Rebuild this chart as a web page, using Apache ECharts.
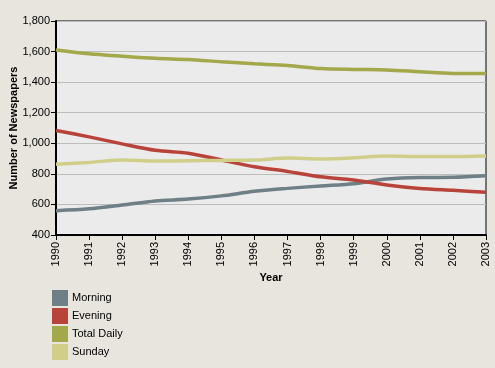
<!DOCTYPE html>
<html><head><meta charset="utf-8">
<script src="https://cdn.jsdelivr.net/npm/echarts@6/dist/echarts.min.js"></script>
<style>html,body{margin:0;padding:0;background:#e8e5df;}#c{width:495px;height:368px;}</style>
</head><body><div id="c"></div>
<script>
var years = ['1990','1991','1992','1993','1994','1995','1996','1997','1998','1999','2000','2001','2002','2003'];
var morning = [559, 571, 596, 623, 635, 656, 686, 705, 721, 736, 766, 776, 777, 787];
var evening = [1084, 1042, 996, 954, 935, 891, 846, 816, 781, 760, 727, 704, 692, 680];
var totalDaily = [1611, 1586, 1570, 1556, 1548, 1533, 1520, 1509, 1489, 1483, 1480, 1468, 1457, 1456];
var sunday = [863, 875, 891, 884, 886, 888, 890, 903, 898, 905, 917, 913, 913, 917];

var font = 'Liberation Sans, Arial, sans-serif';
function s(name, data, color){
  return {name:name, type:'line', data:data, smooth:0.3, symbol:'none',
    lineStyle:{color:color, width:3.5}, itemStyle:{color:color}};
}
var chart = echarts.init(document.getElementById('c'));
chart.setOption({
  backgroundColor:'#e8e5df',
  animation:false,
  grid:{left:56, right:9, top:21, bottom:133, containLabel:false, outerBoundsMode:'none',
    show:true, backgroundColor:'#ebebeb', borderColor:'#000', borderWidth:1},
  legend:{orient:'vertical', left:52, top:290, height:80, padding:0, icon:'rect', itemWidth:16, itemHeight:16, itemGap:2,
    textStyle:{fontFamily:font, fontSize:11, color:'#000', padding:[0,0,0,-1]},
    data:['Morning','Evening','Total Daily','Sunday']},
  xAxis:{type:'category', data:years, boundaryGap:false,
    name:'Year', nameLocation:'middle', nameGap:37, nameMoveOverlap:false,
    nameTextStyle:{fontFamily:font, fontSize:11, fontWeight:'bold', color:'#000'},
    axisLine:{lineStyle:{color:'#000', width:2}},
    axisTick:{show:true, length:5, lineStyle:{color:'#000'}},
    axisLabel:{rotate:90, fontFamily:font, fontSize:11, color:'#000', margin:7},
    splitLine:{show:false}},
  yAxis:{type:'value', min:400, max:1800, interval:200,
    name:'Number of Newspapers', nameLocation:'middle', nameGap:37, nameMoveOverlap:false,
    nameTextStyle:{fontFamily:font, fontSize:11, fontWeight:'bold', color:'#000'},
    axisLine:{show:true, lineStyle:{color:'#000', width:2}},
    axisTick:{show:true, length:5, lineStyle:{color:'#000'}},
    axisLabel:{fontFamily:font, fontSize:11, color:'#000', margin:6,
      formatter:function(v){return v.toLocaleString('en-US');}},
    splitLine:{show:true, lineStyle:{color:'#bdbdbd', width:1}}},
  series:[
    s('Morning', morning, '#6e7f86'),
    s('Evening', evening, '#b8433a'),
    s('Total Daily', totalDaily, '#a3a84a'),
    s('Sunday', sunday, '#cfcf8a')
  ]
});
</script></body></html>
